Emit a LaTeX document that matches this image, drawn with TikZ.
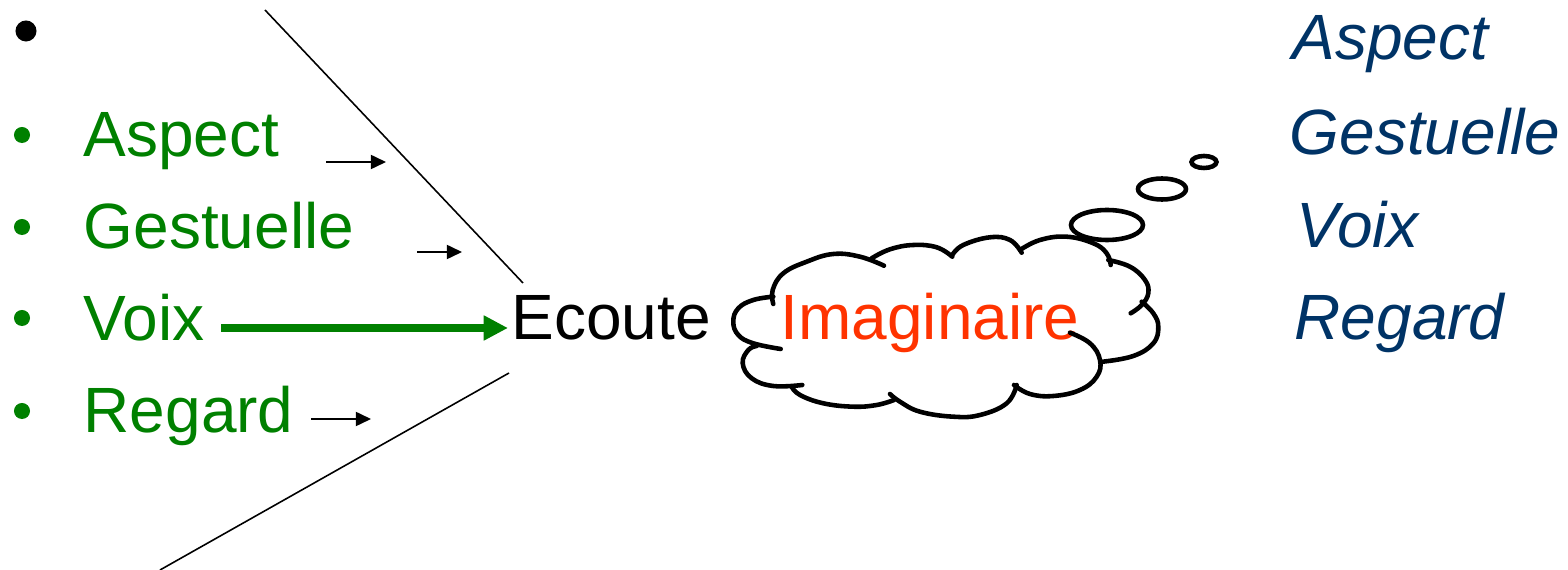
\documentclass[tikz,border=0pt]{standalone}
\usepackage{fontspec}
\setmainfont{Liberation Sans}
\usetikzlibrary{arrows.meta}
\definecolor{lgreen}{HTML}{008000}
\definecolor{dblue}{HTML}{003366}
\definecolor{ired}{HTML}{FF3300}
\begin{document}
\begin{tikzpicture}[x=0.01cm, y=-0.01cm,
  lbl/.style={anchor=base west, inner sep=0, font=\fontsize{18.2}{22}\selectfont},
  gtxt/.style={lbl, text=lgreen},
  btxt/.style={lbl, text=dblue, font=\fontsize{18.2}{22}\selectfont\itshape},
  gbul/.style={circle, fill=lgreen, inner sep=0, minimum size=0.16cm},
  kbul/.style={circle, fill=black, inner sep=0, minimum size=0.21cm},
  smallarr/.style={line width=0.5pt, -{Triangle[length=4.3pt,width=4pt]}},
  bigarr/.style={draw=lgreen, line width=2.1pt, -{Triangle[length=6.9pt,width=6.7pt]}},
  guide/.style={line width=0.45pt},
  cloudline/.style={line width=1.3pt, line cap=round, line join=round},
  bubble/.style={draw, fill=white, line width=1.3pt}
]
\useasboundingbox (0,0) rectangle (1568,570);

% bullets
\node[kbul] (b0) at (26,31) {};
\node[gbul] (b1) at (22,135) {};
\node[gbul] (b2) at (22,227) {};
\node[gbul] (b3) at (22,318) {};
\node[gbul] (b4) at (22,411) {};

% green list
\node[gtxt] (aspect) at (83,157) {Aspect};
\node[gtxt] (gest) at (83,249) {Gestuelle};
\node[gtxt] (voix) at (83,341) {Voix};
\node[gtxt] (regard) at (83,433) {Regard};

% centre labels
\node[lbl] (ecoute) at (511,340) {Ecoute};
\node[lbl, text=ired] (imag) at (780,340) {Imaginaire};

% right list
\node[btxt] (raspect) at (1292,60) {Aspect};
\node[btxt] (rgest) at (1289,155) {Gestuelle};
\node[btxt] (rvoix) at (1296,248) {Voix};
\node[btxt] (rregard) at (1294,340) {Regard};

% small arrows
\coordinate (a1s) at (326,162); \coordinate (a1e) at (386,162);
\coordinate (a2s) at (417,252); \coordinate (a2e) at (462,252);
\coordinate (a4s) at (311,419); \coordinate (a4e) at (371,419);
\draw[smallarr] (a1s) -- (a1e);
\draw[smallarr] (a2s) -- (a2e);
\draw[smallarr] (a4s) -- (a4e);

% voix arrow
\coordinate (vs) at (221,328); \coordinate (ve) at (508,328);
\draw[bigarr] (vs) -- (ve);

% funnel lines
\coordinate (t1) at (265,10); \coordinate (t2) at (523,283);
\coordinate (u1) at (509,373); \coordinate (u2) at (160,570);
\draw[guide] (t1) -- (t2);
\draw[guide] (u1) -- (u2);

% cloud
\begin{scope}[cloudline]
\draw plot[smooth, tension=0.7] coordinates {(773.3,296.7) (753.3,300) (738.3,308.3) (733.3,321.7) (738.3,335) (753.3,343.3) (780.7,349)};
\draw plot[smooth, tension=0.7] coordinates {(773.3,304) (772.7,290) (783.3,273.3) (806.7,261.7) (833.3,254) (860,256.7) (884,265.7)};
\draw plot[smooth, tension=0.7] coordinates {(871.7,258.3) (890,249.3) (913.3,245) (936.7,247.3) (952.3,256.7)};
\draw plot[smooth, tension=0.7] coordinates {(952.3,255) (963.3,245) (990,237.3) (1010,240) (1021.7,252.7)};
\draw plot[smooth, tension=0.7] coordinates {(1020,250) (1040,240) (1066.7,236.7) (1093.3,243.3) (1106.7,253.3) (1110.7,265)};
\draw plot[smooth, tension=0.7] coordinates {(1108.3,260) (1130,266.7) (1145,280) (1148.3,293.3) (1141.7,305) (1130.7,313.3)};
\draw plot[smooth, tension=0.7] coordinates {(1141.7,301.7) (1153.3,313.3) (1158.3,326.7) (1153.3,343.3) (1133.3,356) (1102.7,361.7)};
\draw plot[smooth, tension=0.7] coordinates {(1070,332.7) (1090,343.3) (1100,360) (1096.7,376.7) (1080,390) (1053.3,396) (1030,394) (1014,385)};
\draw plot[smooth, tension=0.7] coordinates {(1016.7,385) (1006.7,403.3) (980,415) (953.3,416.7) (920,411.7) (900,401.7) (890,394)};
\draw plot[smooth, tension=0.7] coordinates {(894,400) (876.7,405) (853.3,406.7) (823.3,403.3) (800,395) (791.7,386.7)};
\draw plot[smooth, tension=0.7] coordinates {(802.3,385) (773.3,386) (751.7,378.3) (742.7,363.3) (748.3,350) (756.7,346)};
\end{scope}

% thought bubbles
\draw[bubble] (1107,225) ellipse[x radius=36, y radius=15];
\draw[bubble] (1162,189) ellipse[x radius=24, y radius=10.5];
\draw[bubble] (1204,162) ellipse[x radius=12.5, y radius=6];
\end{tikzpicture}
\end{document}
